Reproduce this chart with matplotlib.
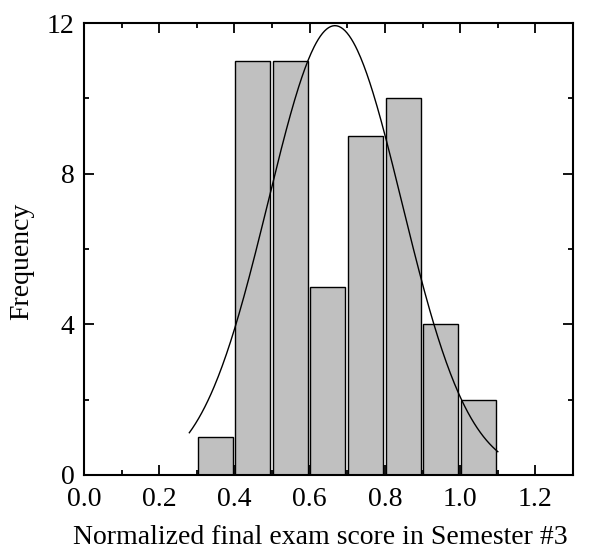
import numpy as np
import matplotlib
matplotlib.use("Agg")
import matplotlib.pyplot as plt
from matplotlib.ticker import MultipleLocator

plt.rcParams['font.family'] = ['Liberation Serif', 'DejaVu Serif']

bin_left = [0.3, 0.4, 0.5, 0.6, 0.7, 0.8, 0.9, 1.0]
counts = [1, 11, 11, 5, 9, 10, 4, 2]
bin_width = 0.1

# fitted normal curve parameters
fit_mean = 0.667
fit_std = 0.178
fit_peak = 11.93
fit_range = (0.28, 1.10)

fig = plt.figure(figsize=(5.92, 5.52), dpi=100)
ax = fig.add_axes([0.1419, 0.1395, 0.968 - 0.1419, 0.9583 - 0.1395])

ax.bar([b + 0.002 for b in bin_left], counts, width=bin_width * 0.93, align='edge',
       color='#c0c0c0', edgecolor='black', linewidth=1.0, zorder=2)

xs = np.linspace(fit_range[0], fit_range[1], 300)
ys = fit_peak * np.exp(-(xs - fit_mean) ** 2 / (2 * fit_std ** 2))
ax.plot(xs, ys, color='black', linewidth=1.0, zorder=3)

ax.set_xlim(0, 1.3)
ax.set_ylim(0, 12)
ax.xaxis.set_minor_locator(MultipleLocator(0.1))
ax.yaxis.set_minor_locator(MultipleLocator(2))
ax.set_xticks([0.0, 0.2, 0.4, 0.6, 0.8, 1.0, 1.2])
ax.set_xticklabels(['0.0', '0.2', '0.4', '0.6', '0.8', '1.0', '1.2'])
ax.set_yticks([0, 4, 8, 12])
ax.set_yticklabels(['0', '4', '8', '12'])

ax.tick_params(which='both', direction='in', top=True, right=True, width=1.3, labelsize=20)
ax.tick_params(which='major', length=7)
ax.tick_params(axis='x', which='major', pad=9)
ax.tick_params(axis='y', which='major', pad=7)
ax.tick_params(which='minor', length=3.6)
for s in ax.spines.values():
    s.set_linewidth(1.5)

fig.text(320 / 592, 1 - 544 / 552, 'Normalized final exam score in Semester #3',
         fontsize=20, ha='center', va='baseline')
fig.text(22 / 592, 1 - 261.5 / 552, 'Frequency', fontsize=20, rotation=90,
         ha='center', va='center')

fig.savefig('out.png', dpi=100)
